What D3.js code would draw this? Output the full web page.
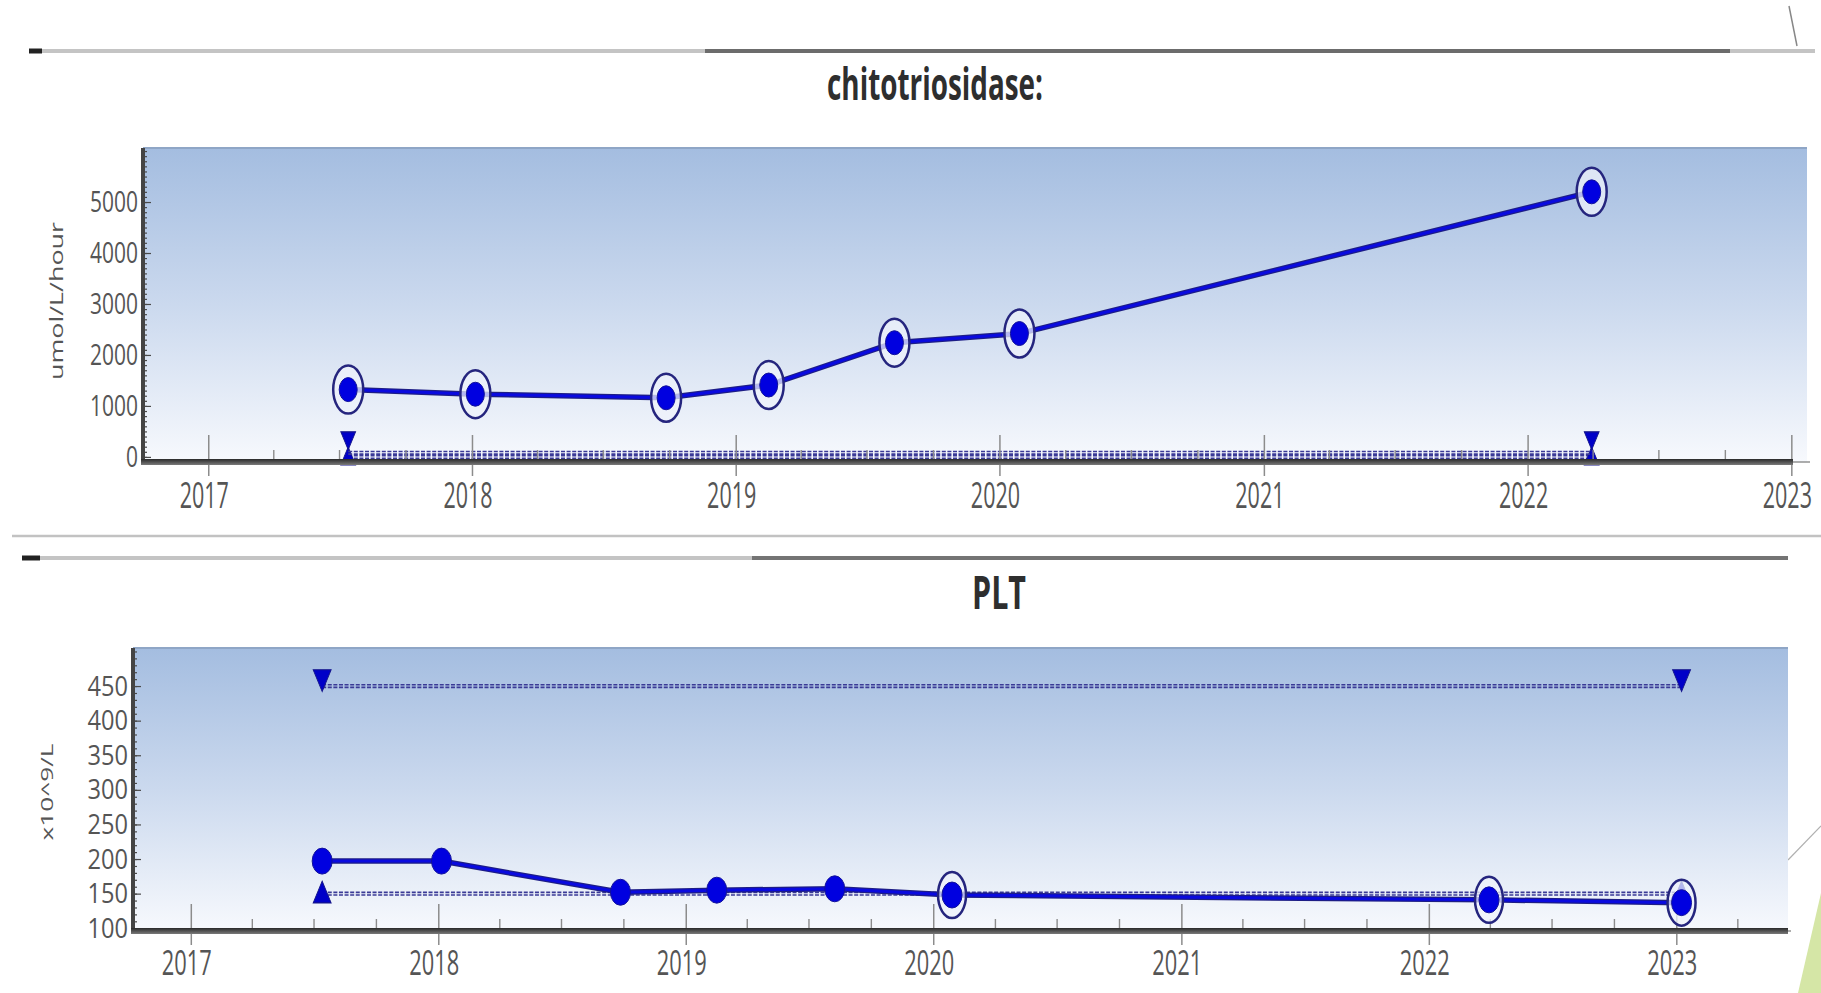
<!DOCTYPE html>
<html>
<head>
<meta charset="utf-8">
<script src="https://cdn.jsdelivr.net/npm/d3@7"></script>
<style>
  body { margin: 0; background: #fff; }
  svg { display: block; }
</style>
</head>
<body>
<div id="chart"></div>
<script>
// visits shared by both panels
var visitDates = ["2017-07-13", "2018-01-05", "2018-09-26", "2019-02-15", "2019-08-08", "2020-01-28", "2022-03-30", "2023-01-08"];
var chitoValues = [1320, 1230, 1160, 1410, 2240, 2420, 5200];
var pltValues = [197, 197, 152, 155, 157, 148, 141, 137];
// reference range [low, high]
var chitoRange = [0, 80];
var pltRange = [150, 450];
var yearTicks = [2017, 2018, 2019, 2020, 2021, 2022, 2023];
var chitoTicks = [0, 1000, 2000, 3000, 4000, 5000];
var pltTicks = [100, 150, 200, 250, 300, 350, 400, 450];

var FONT = "'Open Sans', 'Noto Sans', sans-serif";
var parseDate = d3.timeParse("%Y-%m-%d");

var panels = [{
  title: "chitotriosidase:", unit: "umol/L/hour",
  values: chitoValues, range: chitoRange, ticks: chitoTicks, minorStep: 100,
  left: 143, right: 1807, top: 148, bottom: 462, axisEnd: 1793,
  xDomain: ["2016-10-02", "2023-01-22"], yDomain: [-100, 6060],
  titleX: 935, titleY: 100, titleW: 216, titleSize: 44,
  unitX: 57, unitY: 301, unitW: 158, unitSize: 30,
  yLabelSize: 30, yCharW: 12, xLabelSize: 36, xCharW: 12.3,
  ring: [15, 24], dot: [9, 12], tri: 95, triHighOff: 15
}, {
  title: "PLT", unit: "x10^9/L",
  values: pltValues, range: pltRange, ticks: pltTicks, minorStep: 10,
  left: 133, right: 1788, top: 648, bottom: 931, axisEnd: 1788,
  xDomain: ["2016-10-07", "2023-06-14"], yDomain: [96, 505],
  titleX: 999, titleY: 609, titleW: 54, titleSize: 46,
  unitX: 47, unitY: 792, unitW: 97, unitSize: 28,
  yLabelSize: 28, yCharW: 13.5, xLabelSize: 34, xCharW: 12.5,
  ring: [14, 23], dot: [10, 13], tri: 140, triHighOff: 9
}];

var svg = d3.select("#chart").append("svg")
  .attr("width", 1821)
  .attr("height", 993)
  .attr("font-family", FONT);

var defs = svg.append("defs");
var bg = defs.append("linearGradient").attr("id", "bg")
  .attr("x1", 0).attr("y1", 0).attr("x2", 0).attr("y2", 1);
bg.append("stop").attr("offset", "0%").attr("stop-color", "#a4bde0");
bg.append("stop").attr("offset", "50%").attr("stop-color", "#cbd9ee");
bg.append("stop").attr("offset", "100%").attr("stop-color", "#f7f9fd");
var bar = defs.append("linearGradient").attr("id", "bar")
  .attr("x1", 0).attr("y1", 0).attr("x2", 0).attr("y2", 1);
bar.append("stop").attr("offset", "0%").attr("stop-color", "#2a2a2a");
bar.append("stop").attr("offset", "100%").attr("stop-color", "#7a7a7a");

// window chrome bits around the two panels
function decorations() {
  var d = svg.append("g");
  d.append("line").attr("x1", 29).attr("x2", 1815).attr("y1", 51).attr("y2", 51)
    .attr("stroke", "#c4c4c4").attr("stroke-width", 4);
  d.append("line").attr("x1", 705).attr("x2", 1730).attr("y1", 51).attr("y2", 51)
    .attr("stroke", "#6c6c6c").attr("stroke-width", 4);
  d.append("line").attr("x1", 29).attr("x2", 42).attr("y1", 51).attr("y2", 51)
    .attr("stroke", "#222").attr("stroke-width", 5);
  d.append("line").attr("x1", 1789).attr("x2", 1797).attr("y1", 6).attr("y2", 46)
    .attr("stroke", "#888").attr("stroke-width", 1.5);
  d.append("line").attr("x1", 12).attr("x2", 1821).attr("y1", 536).attr("y2", 536)
    .attr("stroke", "#c2c2c2").attr("stroke-width", 2.5);
  d.append("line").attr("x1", 22).attr("x2", 1788).attr("y1", 558).attr("y2", 558)
    .attr("stroke", "#c4c4c4").attr("stroke-width", 4);
  d.append("line").attr("x1", 752).attr("x2", 1788).attr("y1", 558).attr("y2", 558)
    .attr("stroke", "#747474").attr("stroke-width", 4);
  d.append("line").attr("x1", 22).attr("x2", 40).attr("y1", 558).attr("y2", 558)
    .attr("stroke", "#222").attr("stroke-width", 5);
  d.append("line").attr("x1", 1788).attr("x2", 1821).attr("y1", 860).attr("y2", 826)
    .attr("stroke", "#b0b0b0").attr("stroke-width", 1.2);
  d.append("path").attr("d", "M1798,993L1821,893L1821,993Z").attr("fill", "#d5e6a6");
}

function drawPanel(p) {
  var g = svg.append("g");
  var x = d3.scaleTime().domain(p.xDomain.map(parseDate)).range([p.left, p.right]);
  var y = d3.scaleLinear().domain(p.yDomain).range([p.bottom, p.top]);
  var data = p.values.map(function(v, i) {
    return { date: parseDate(visitDates[i]), value: v };
  });

  //background
  g.append("rect")
    .attr("x", p.left).attr("y", p.top)
    .attr("width", p.right - p.left).attr("height", p.bottom - p.top)
    .attr("fill", "url(#bg)");
  g.append("line")
    .attr("x1", p.left).attr("x2", p.right).attr("y1", p.top).attr("y2", p.top)
    .attr("stroke", "#8fa6c6").attr("stroke-width", 2);

  //title
  g.append("text").text(p.title)
    .attr("x", p.titleX).attr("y", p.titleY)
    .attr("text-anchor", "middle")
    .attr("textLength", p.titleW).attr("lengthAdjust", "spacingAndGlyphs")
    .attr("fill", "#2e2e2e")
    .style("font-size", p.titleSize + "px").style("font-weight", "bold");

  //unit label
  g.append("text").text(p.unit)
    .attr("transform", "translate(" + p.unitX + "," + p.unitY + ") scale(0.6,1) rotate(-90)")
    .attr("text-anchor", "middle").attr("dy", "0.35em")
    .attr("textLength", p.unitW).attr("lengthAdjust", "spacingAndGlyphs")
    .attr("fill", "#555")
    .style("font-size", p.unitSize + "px");

  //reference range
  var x1 = x(data[0].date), x2 = x(data[data.length - 1].date);
  p.range.forEach(function(lim, k) {
    var yy = y(lim);
    [-1.3, 1.3].forEach(function(off) {
      g.append("line")
        .attr("x1", x1).attr("x2", x2).attr("y1", yy + off).attr("y2", yy + off)
        .attr("stroke", "#3a3a96").attr("stroke-width", 1.6)
        .attr("stroke-dasharray", "4 1.6");
    });
    var high = k === 1;
    [x1, x2].forEach(function(xx) {
      g.append("path")
        .attr("d", d3.symbol(d3.symbolTriangle, p.tri)())
        .attr("transform", "translate(" + xx + "," + (high ? yy - p.triHighOff : yy + 2) + ") rotate(" + (high ? 180 : 0) + ") scale(1,1.4)")
        .attr("fill", "#0000c8").attr("stroke", "#14148a").attr("stroke-width", 0.8);
    });
  });

  //x ticks
  var years = yearTicks.map(function(yr) { return new Date(yr, 0, 1); });
  var inside = function(d) { return x(d) > p.left && x(d) < p.right; };
  var quarters = d3.timeMonth.every(3).range(x.domain()[0], x.domain()[1])
    .filter(function(d) { return d.getMonth() !== 0; })
    .filter(inside);
  g.append("g").selectAll("line").data(quarters).join("line")
    .attr("x1", x).attr("x2", x)
    .attr("y1", p.bottom - 12).attr("y2", p.bottom)
    .attr("stroke", "#8c8c8c").attr("stroke-width", 1.4);
  g.append("g").selectAll("line").data(years.filter(inside)).join("line")
    .attr("x1", x).attr("x2", x)
    .attr("y1", p.bottom - 27).attr("y2", p.bottom + 14)
    .attr("stroke", "#8c8c8c").attr("stroke-width", 1.5);

  var xAxis = g.append("g")
    .attr("transform", "translate(0," + p.bottom + ")")
    .call(d3.axisBottom(x).tickValues(years).tickSize(0).tickPadding(20).tickFormat(d3.timeFormat("%Y")))
    .attr("font-family", FONT);
  xAxis.select(".domain").remove();
  var xText = xAxis.selectAll("text")
    .attr("fill", "#555")
    .style("font-size", p.xLabelSize + "px");
  // squeeze the labels sideways like the source screenshot
  var sx = 4 * p.xCharW / xText.node().getComputedTextLength();
  xText.attr("x", -5 / sx).attr("transform", "scale(" + sx + ",1)");

  //y ticks inside the plot
  var minor = d3.range(Math.ceil(p.yDomain[0] / p.minorStep) * p.minorStep, p.yDomain[1], p.minorStep);
  [[minor, 4], [p.ticks, 8]].forEach(function(t) {
    var a = g.append("g")
      .attr("transform", "translate(" + p.left + ",0)")
      .call(d3.axisRight(y).tickValues(t[0]).tickSize(t[1]).tickFormat(""));
    a.select(".domain").remove();
    a.selectAll("line").attr("stroke", "#4a4a4a").attr("stroke-width", 1.2);
  });

  var yAxis = g.append("g")
    .attr("transform", "translate(" + (p.left - 5) + ",0)")
    .call(d3.axisLeft(y).tickValues(p.ticks).tickSize(0).tickPadding(0).tickFormat(d3.format("d")))
    .attr("font-family", FONT);
  yAxis.select(".domain").remove();
  yAxis.selectAll("text")
    .attr("fill", "#555")
    .attr("textLength", function(d) { return String(d).length * p.yCharW; })
    .attr("lengthAdjust", "spacingAndGlyphs")
    .style("font-size", p.yLabelSize + "px");

  //axis bars
  g.append("rect")
    .attr("x", p.left - 2).attr("y", p.top)
    .attr("width", 4).attr("height", p.bottom - p.top)
    .attr("fill", "#444");
  g.append("line")
    .attr("x1", p.axisEnd).attr("x2", p.right + 3).attr("y1", p.bottom).attr("y2", p.bottom)
    .attr("stroke", "#777").attr("stroke-width", 1.2);
  g.append("rect")
    .attr("x", p.left - 2).attr("y", p.bottom - 3)
    .attr("width", p.axisEnd - p.left + 2).attr("height", 6)
    .attr("fill", "url(#bar)");

  //series
  var line = d3.line()
    .x(function(d) { return x(d.date); })
    .y(function(d) { return y(d.value); });
  g.append("path").datum(data).attr("d", line)
    .attr("fill", "none").attr("stroke", "#1d1d86").attr("stroke-width", 5.5);
  g.append("path").datum(data).attr("d", line)
    .attr("fill", "none").attr("stroke", "#0a0adf").attr("stroke-width", 3);

  // ring marks values outside the reference range
  var flagged = data.filter(function(d) { return d.value < p.range[0] || d.value > p.range[1]; });
  g.append("g").selectAll("ellipse").data(flagged).join("ellipse")
    .attr("cx", function(d) { return x(d.date); })
    .attr("cy", function(d) { return y(d.value); })
    .attr("rx", p.ring[0]).attr("ry", p.ring[1])
    .attr("fill", "#eef2fb").attr("fill-opacity", 0.75)
    .attr("stroke", "#25257e").attr("stroke-width", 2.5);
  g.append("g").selectAll("ellipse").data(data).join("ellipse")
    .attr("cx", function(d) { return x(d.date); })
    .attr("cy", function(d) { return y(d.value); })
    .attr("rx", p.dot[0]).attr("ry", p.dot[1])
    .attr("fill", "#0000e0").attr("stroke", "#12129a").attr("stroke-width", 1);
}

decorations();
panels.forEach(drawPanel);
</script>
</body>
</html>
